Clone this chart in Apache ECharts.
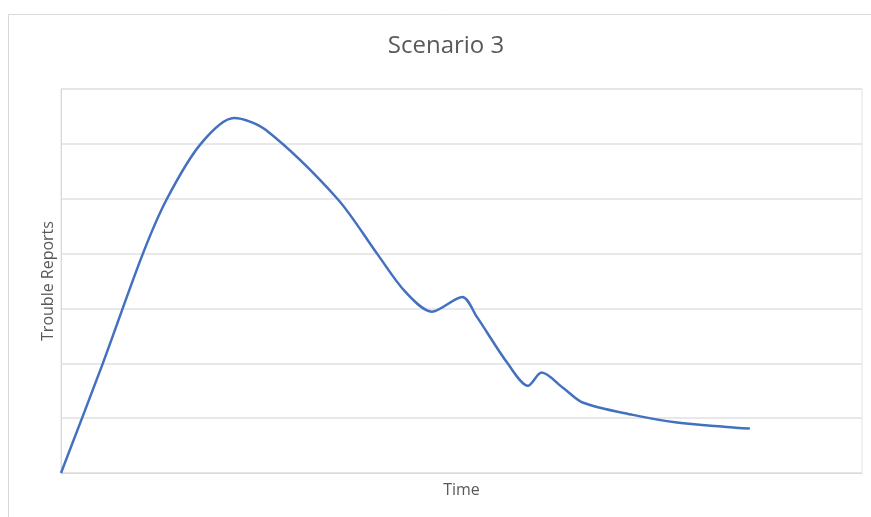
<!DOCTYPE html>
<html>
<head>
<meta charset="utf-8">
<script src="https://cdn.jsdelivr.net/npm/echarts@6/dist/echarts.min.js"></script>
<style>
  html, body { margin: 0; padding: 0; background: #ffffff; }
  #chart { width: 871px; height: 517px; }
</style>
</head>
<body>
<div id="chart"></div>
<script>
// Trouble reports over time (time in percent of the span, reports in axis units)
const timePoints = [0, 5.2, 10.2, 13.2, 17.4, 21.6, 25.5, 34.5, 39.5, 43.0, 46.3, 50.1, 51.9, 55.8, 58.3, 60.0, 62.7, 65.2, 71.4, 76.9, 83.1, 86.0];
const troubleReports = [0, 19.9, 39.9, 49.9, 59.9, 64.7, 62.6, 50.0, 39.9, 33.0, 29.4, 32.1, 28.5, 19.9, 15.9, 18.3, 15.5, 12.8, 10.6, 9.2, 8.4, 8.1];
const yTicks = [0, 10, 20, 30, 40, 50, 60, 70];

const chart = echarts.init(document.getElementById('chart'), null, { renderer: 'canvas' });
const font = '"Open Sans", "DejaVu Sans", sans-serif';

chart.setOption({
  backgroundColor: '#ffffff',
  animation: false,
  title: {
    text: 'Scenario 3',
    left: 441,
    textAlign: 'center',
    top: 29,
    textStyle: { fontFamily: font, fontSize: 24, fontWeight: 'normal', color: '#595959' }
  },
  graphic: [{
    type: 'rect',
    shape: { x: 8.5, y: 14.5, width: 900, height: 600 },
    style: { fill: 'none', stroke: '#d9d9d9', lineWidth: 1 },
    silent: true
  }],
  grid: {
    left: 61, right: 9, top: 89, bottom: 44,
    show: true, borderColor: '#e3e3ea', borderWidth: 1
  },
  xAxis: {
    type: 'value',
    min: 0, max: 100,
    name: 'Time',
    nameLocation: 'middle',
    nameGap: 9,
    nameTextStyle: { fontFamily: font, fontSize: 16, color: '#595959' },
    axisLine: { show: true, lineStyle: { color: '#d9d9d9' } },
    axisTick: { show: false },
    axisLabel: { show: false },
    splitLine: { show: false }
  },
  yAxis: {
    type: 'value',
    min: yTicks[0], max: yTicks[yTicks.length - 1], interval: 10,
    name: 'Trouble Reports',
    nameLocation: 'middle',
    nameGap: 5,
    nameTextStyle: { fontFamily: font, fontSize: 16, color: '#595959' },
    axisLine: { show: true, lineStyle: { color: '#d9d9d9' } },
    axisTick: { show: false },
    axisLabel: { show: false },
    splitLine: { show: true, lineStyle: { color: '#e0e0e0', width: 1.5 } }
  },
  series: [{
    type: 'line',
    data: timePoints.map((t, i) => [t, troubleReports[i]]),
    smooth: 0.3,
    showSymbol: false,
    lineStyle: { color: '#4470c0', width: 2.5 }
  }]
});
</script>
</body>
</html>
